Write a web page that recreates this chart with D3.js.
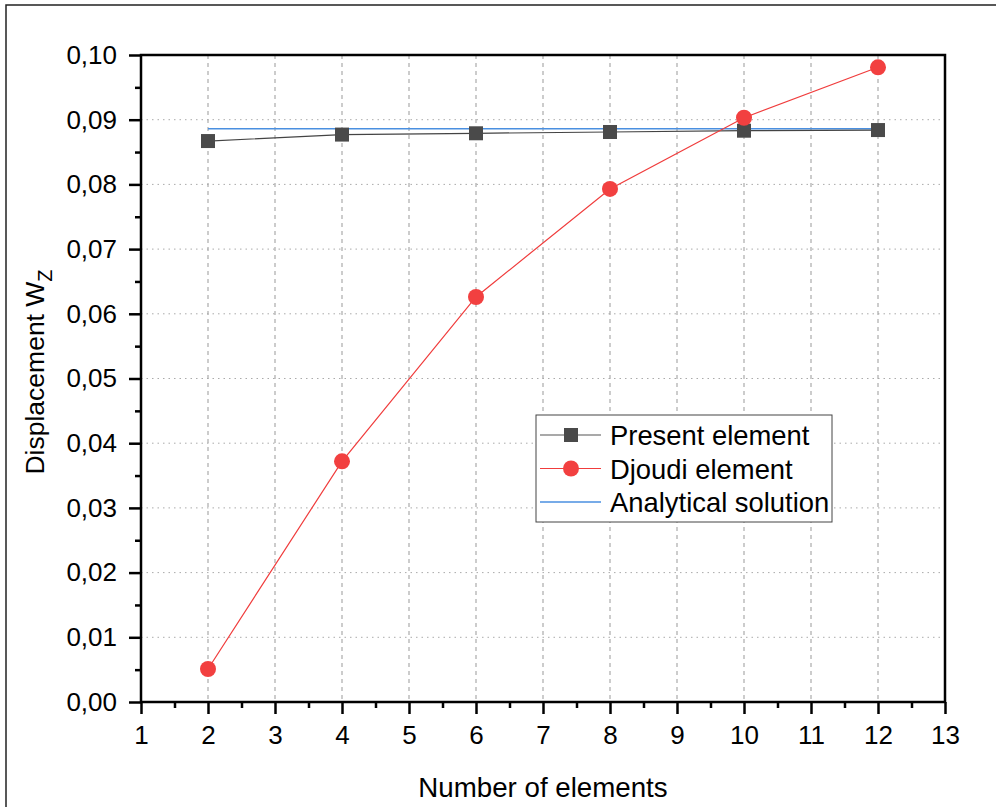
<!DOCTYPE html>
<html>
<head>
<meta charset="utf-8">
<script src="https://cdn.jsdelivr.net/npm/d3@7"></script>
<style>
  body { margin: 0; background: #fff; }
  text { font-family: Arial, "Liberation Sans", sans-serif; fill: #000; }
</style>
</head>
<body>
<svg id="chart" width="996" height="807"></svg>
<script>
// data
const elements = [2, 4, 6, 8, 10, 12];
const present = [0.0867, 0.0877, 0.0879, 0.0881, 0.0883, 0.0884];
const djoudi = [0.0051, 0.0372, 0.0626, 0.0793, 0.0903, 0.0981];
const analytical = [0.0886, 0.0886, 0.0886, 0.0886, 0.0886, 0.0886];
const xTicks = [1, 2, 3, 4, 5, 6, 7, 8, 9, 10, 11, 12, 13];
const yTicks = [0, 0.01, 0.02, 0.03, 0.04, 0.05, 0.06, 0.07, 0.08, 0.09, 0.10];
const seriesNames = ["Present element", "Djoudi element", "Analytical solution"];

const svg = d3.select("#chart");
const plotL = 141, plotR = 945, plotT = 55, plotB = 702;

// outer frame
svg.append("rect").attr("x", 6).attr("y", 5).attr("width", 1000).attr("height", 900)
    .attr("fill", "none").attr("stroke", "#222").attr("stroke-width", 1.5);

const x = d3.scaleLinear().domain([1, 13]).range([plotL, plotR]);
const y = d3.scaleLinear().domain([0, 0.10]).range([plotB, plotT]);
const fmt = d => d3.format(".2f")(d).replace(".", ",");

// grid
svg.append("g").selectAll("line").data(xTicks.slice(1, -1)).enter().append("line")
    .attr("x1", d => x(d)).attr("x2", d => x(d)).attr("y1", plotT).attr("y2", plotB)
    .attr("stroke", "#999").attr("stroke-width", 1).attr("stroke-dasharray", "4,4");
svg.append("g").selectAll("line").data(yTicks.slice(1, -1)).enter().append("line")
    .attr("x1", plotL).attr("x2", plotR).attr("y1", d => y(d)).attr("y2", d => y(d))
    .attr("stroke", "#aaa").attr("stroke-width", 1).attr("stroke-dasharray", "1.5,4");

// axes
const xAxis = svg.append("g").attr("transform", `translate(0,${plotB})`)
    .call(d3.axisBottom(x).tickValues(xTicks).tickSize(12).tickPadding(12).tickFormat(d3.format("d")));
const xMinor = svg.append("g").attr("transform", `translate(0,${plotB})`)
    .call(d3.axisBottom(x).tickValues(d3.range(1.5, 13, 1)).tickSize(6).tickFormat(""));
const yAxis = svg.append("g").attr("transform", `translate(${plotL},0)`)
    .call(d3.axisLeft(y).tickValues(yTicks).tickSize(12).tickPadding(12).tickFormat(fmt));
const yMinor = svg.append("g").attr("transform", `translate(${plotL},0)`)
    .call(d3.axisLeft(y).tickValues(d3.range(0.005, 0.1, 0.01)).tickSize(6).tickFormat(""));
[xAxis, xMinor, yAxis, yMinor].forEach(g => {
    g.select(".domain").remove();
    g.selectAll(".tick line").attr("stroke", "#000").attr("stroke-width", 2.5);
    g.selectAll(".tick text").attr("font-size", 26).attr("font-family", "Arial, 'Liberation Sans', sans-serif");
});

// plot frame
svg.append("rect").attr("x", plotL).attr("y", plotT).attr("width", plotR - plotL).attr("height", plotB - plotT)
    .attr("fill", "none").attr("stroke", "#000").attr("stroke-width", 2.5);

// series
const line = d3.line().x((d, i) => x(elements[i])).y(d => y(d));
svg.append("path").datum(analytical).attr("d", line).attr("fill", "none")
    .attr("stroke", "#4a8fe0").attr("stroke-width", 1.5);
svg.append("path").datum(present).attr("d", line).attr("fill", "none")
    .attr("stroke", "#444").attr("stroke-width", 1.2);
svg.append("path").datum(djoudi).attr("d", line).attr("fill", "none")
    .attr("stroke", "#f03c3c").attr("stroke-width", 1.2);

svg.append("g").selectAll("rect").data(present).enter().append("rect")
    .attr("x", (d, i) => x(elements[i]) - 7).attr("y", d => y(d) - 7)
    .attr("width", 14).attr("height", 14).attr("fill", "#4a4a4a");
svg.append("g").selectAll("circle").data(djoudi).enter().append("circle")
    .attr("cx", (d, i) => x(elements[i])).attr("cy", d => y(d)).attr("r", 8)
    .attr("fill", "#f24040");

// legend
const lg = svg.append("g");
lg.append("rect").attr("x", 536).attr("y", 415).attr("width", 296).attr("height", 107)
    .attr("fill", "#fff").attr("stroke", "#444").attr("stroke-width", 1);
const legendColors = ["#555", "#f03c3c", "#4a8fe0"];
seriesNames.forEach((name, i) => {
    const cy = 435 + i * 33.5;
    lg.append("line").attr("x1", 540).attr("x2", 601).attr("y1", cy).attr("y2", cy)
        .attr("stroke", legendColors[i]).attr("stroke-width", i === 2 ? 1.5 : 1.2);
    if (i === 0) lg.append("rect").attr("x", 564).attr("y", cy - 7).attr("width", 14).attr("height", 14).attr("fill", "#4a4a4a");
    if (i === 1) lg.append("circle").attr("cx", 571).attr("cy", cy).attr("r", 8).attr("fill", "#f24040");
    lg.append("text").attr("x", 610).attr("y", cy + 10).attr("font-size", 27.4).text(name);
});

// axis titles
svg.append("text").attr("x", (plotL + plotR) / 2).attr("y", 797).attr("text-anchor", "middle")
    .attr("font-size", 27.7).text("Number of elements");
const yt = svg.append("text").attr("transform", "translate(44,372) rotate(-90)")
    .attr("text-anchor", "middle").attr("font-size", 26.5);
yt.append("tspan").text("Displacement W");
yt.append("tspan").attr("font-size", 20).attr("dy", 8).text("Z");
</script>
</body>
</html>
